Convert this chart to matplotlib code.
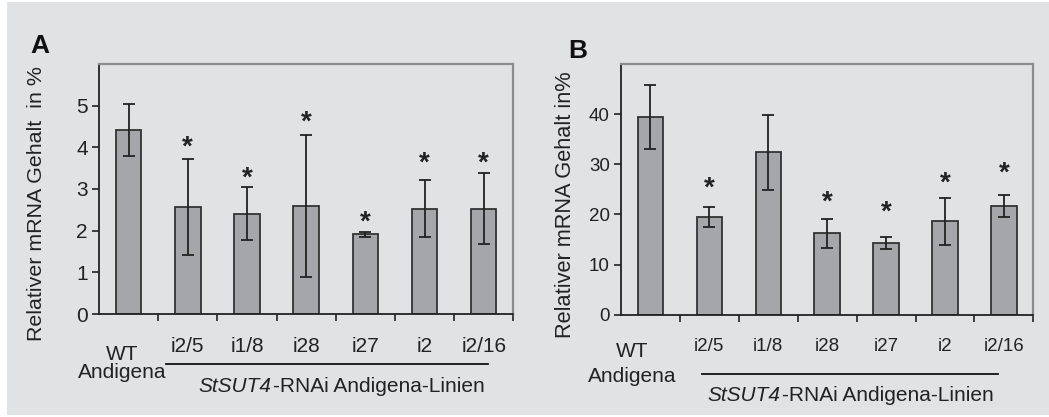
import matplotlib
matplotlib.use("Agg")
import matplotlib.pyplot as plt
from matplotlib.patches import Rectangle
from matplotlib.lines import Line2D
from matplotlib.transforms import blended_transform_factory

plt.rcParams["font.family"] = ["Liberation Sans", "DejaVu Sans"]

# ---- data -------------------------------------------------------------
lines = ["WT", "i2/5", "i1/8", "i28", "i27", "i2", "i2/16"]

# Panel A
a_mean = [4.42, 2.57, 2.41, 2.60, 1.91, 2.53, 2.53]
a_err = [0.63, 1.16, 0.63, 1.70, 0.05, 0.69, 0.86]
a_sig = [False, True, True, True, True, True, True]
a_star_y = [None, 4.18, 3.44, 4.78, 2.38, 3.80, 3.80]
a_yticks = [0, 1, 2, 3, 4, 5]
a_ymax = 6

# Panel B
b_mean = [39.4, 19.5, 32.4, 16.2, 14.3, 18.6, 21.7]
b_err = [6.45, 2.0, 7.5, 2.9, 1.2, 4.7, 2.2]
b_sig = [False, True, False, True, True, True, True]
b_star_y = [None, 26.8, None, 23.9, 21.9, 27.8, 29.8]
b_yticks = [0, 10, 20, 30, 40]
b_ymax = 50

group_label = "-RNAi Andigena-Linien"
construct = "StSUT4"

# ---- style ------------------------------------------------------------
BG = "#e1e2e4"
BAR = "#a4a6a9"
EDGE = "#333333"
FRAME = "#8c8c8c"
INK = "#222222"

W, H = 1049, 417
fig = plt.figure(figsize=(W / 100, H / 100), dpi=100)
fig.patch.set_facecolor("white")
fig.patches.append(Rectangle((7 / W, 2 / H), 1 - 7 / W, (415 - 2) / H,
                             transform=fig.transFigure, facecolor=BG,
                             edgecolor="none", zorder=-10))
renderer = fig.canvas.get_renderer()


def px_axes(left, top, right, bottom):
    return fig.add_axes([left / W, 1 - bottom / H, (right - left) / W, (bottom - top) / H])


def panel(ax, mean, err, sig, star_y, yticks, ymax, tick_fs, cat_fs,
          ylabel, ylabel_fs, label_xy, wt_offs, line_span, text_x, text_off):
    x = list(range(len(mean)))
    ax.set_facecolor(BG)
    ax.bar(x, mean, width=0.43, color=BAR, edgecolor=EDGE, linewidth=1.3, zorder=2)
    ax.errorbar(x, mean, yerr=err, fmt="none", ecolor=INK, elinewidth=1.3,
                capsize=4.5, capthick=1.3, zorder=3)
    for xi, s, sy in zip(x, sig, star_y):
        if s:
            ax.annotate("*", xy=(xi, sy), xytext=(0, -15), textcoords="offset pixels",
                        ha="center", va="baseline", fontsize=20, fontweight="bold",
                        color=INK)
    ax.set_xlim(-0.5, len(mean) - 0.5)
    ax.set_ylim(0, ymax)
    ax.set_yticks(yticks)
    ax.set_yticklabels([str(t) for t in yticks], fontsize=tick_fs, color=INK)
    ax.set_xticks([i + 0.5 for i in range(len(mean))])
    ax.set_xticklabels([])
    ax.tick_params(axis="both", direction="out", length=5, width=1.2, color=INK)
    ax.tick_params(axis="y", pad=3)
    for side in ("left", "bottom"):
        ax.spines[side].set_color(INK)
        ax.spines[side].set_linewidth(1.3)
    for side in ("top", "right"):
        ax.spines[side].set_color(FRAME)
        ax.spines[side].set_linewidth(1.6)

    tr = blended_transform_factory(ax.transData, ax.transAxes)
    for i, lab in enumerate(lines[1:], start=1):
        ax.annotate(lab, xy=(i, 0), xycoords=tr, xytext=(0, -32),
                    textcoords="offset pixels", ha="center", va="center",
                    fontsize=cat_fs, color=INK)
    wt_dx, wt_dy, and_dy = wt_offs
    ax.annotate(lines[0], xy=(0, 0), xycoords=tr, xytext=(wt_dx, wt_dy),
                textcoords="offset pixels", ha="center", va="center",
                fontsize=15, color=INK)
    ax.annotate("Andigena", xy=(0, 0), xycoords=tr, xytext=(wt_dx, and_dy),
                textcoords="offset pixels", ha="center", va="center",
                fontsize=15, color=INK)

    # underline spanning the transgenic lines
    x0, x1, dy = line_span
    y_base = ax.transAxes.transform((0, 0))[1]
    xa = ax.transData.transform((x0, 0))[0]
    xb = ax.transData.transform((x1, 0))[0]
    fig.add_artist(Line2D([xa / W, xb / W], [(y_base + dy) / H] * 2,
                          transform=fig.transFigure, color="#111111", lw=1.3))

    # group caption: italic construct name followed by upright text
    yc = (y_base + text_off) / H
    t_it = fig.text(0, yc, construct, fontsize=15, fontstyle="italic",
                    ha="left", va="center", color=INK)
    t_rm = fig.text(0, yc, group_label, fontsize=15, ha="left", va="center", color=INK)
    w_it = t_it.get_window_extent(renderer).width
    w_rm = t_rm.get_window_extent(renderer).width
    xc = ax.transData.transform((text_x, 0))[0]
    start = xc - (w_it + w_rm) / 2
    t_it.set_x(start / W)
    t_rm.set_x((start + w_it + 1) / W)

    ax.set_ylabel(ylabel, fontsize=ylabel_fs, color=INK)
    ax.yaxis.set_label_coords(label_xy[0] / W, 1 - label_xy[1] / H,
                              transform=fig.transFigure)
    ax.yaxis.label.set_va("center")


axA = px_axes(99, 64, 513.3, 314)
axB = px_axes(621, 64, 1033.3, 314.7)

panel(axA, a_mean, a_err, a_sig, a_star_y, a_yticks, a_ymax, 15, 15,
      "Relativer mRNA Gehalt  in %", 15.4, (37, 204), (-6, -41, -58),
      (0.627, 6.07, -50), 3.59, -73)
panel(axB, b_mean, b_err, b_sig, b_star_y, b_yticks, b_ymax, 13.5, 13.5,
      "Relativer mRNA Gehalt in%", 15.7, (565, 205), (-18, -37, -62),
      (0.87, 5.895, -59), 3.39, -81)

fig.text(40 / W, 1 - 46 / H, "A", fontsize=19, fontweight="bold", ha="center",
         va="center", color="#111111")
fig.text(578 / W, 1 - 51 / H, "B", fontsize=19, fontweight="bold", ha="center",
         va="center", color="#111111")

fig.savefig("out.png", dpi=100, facecolor="white")
